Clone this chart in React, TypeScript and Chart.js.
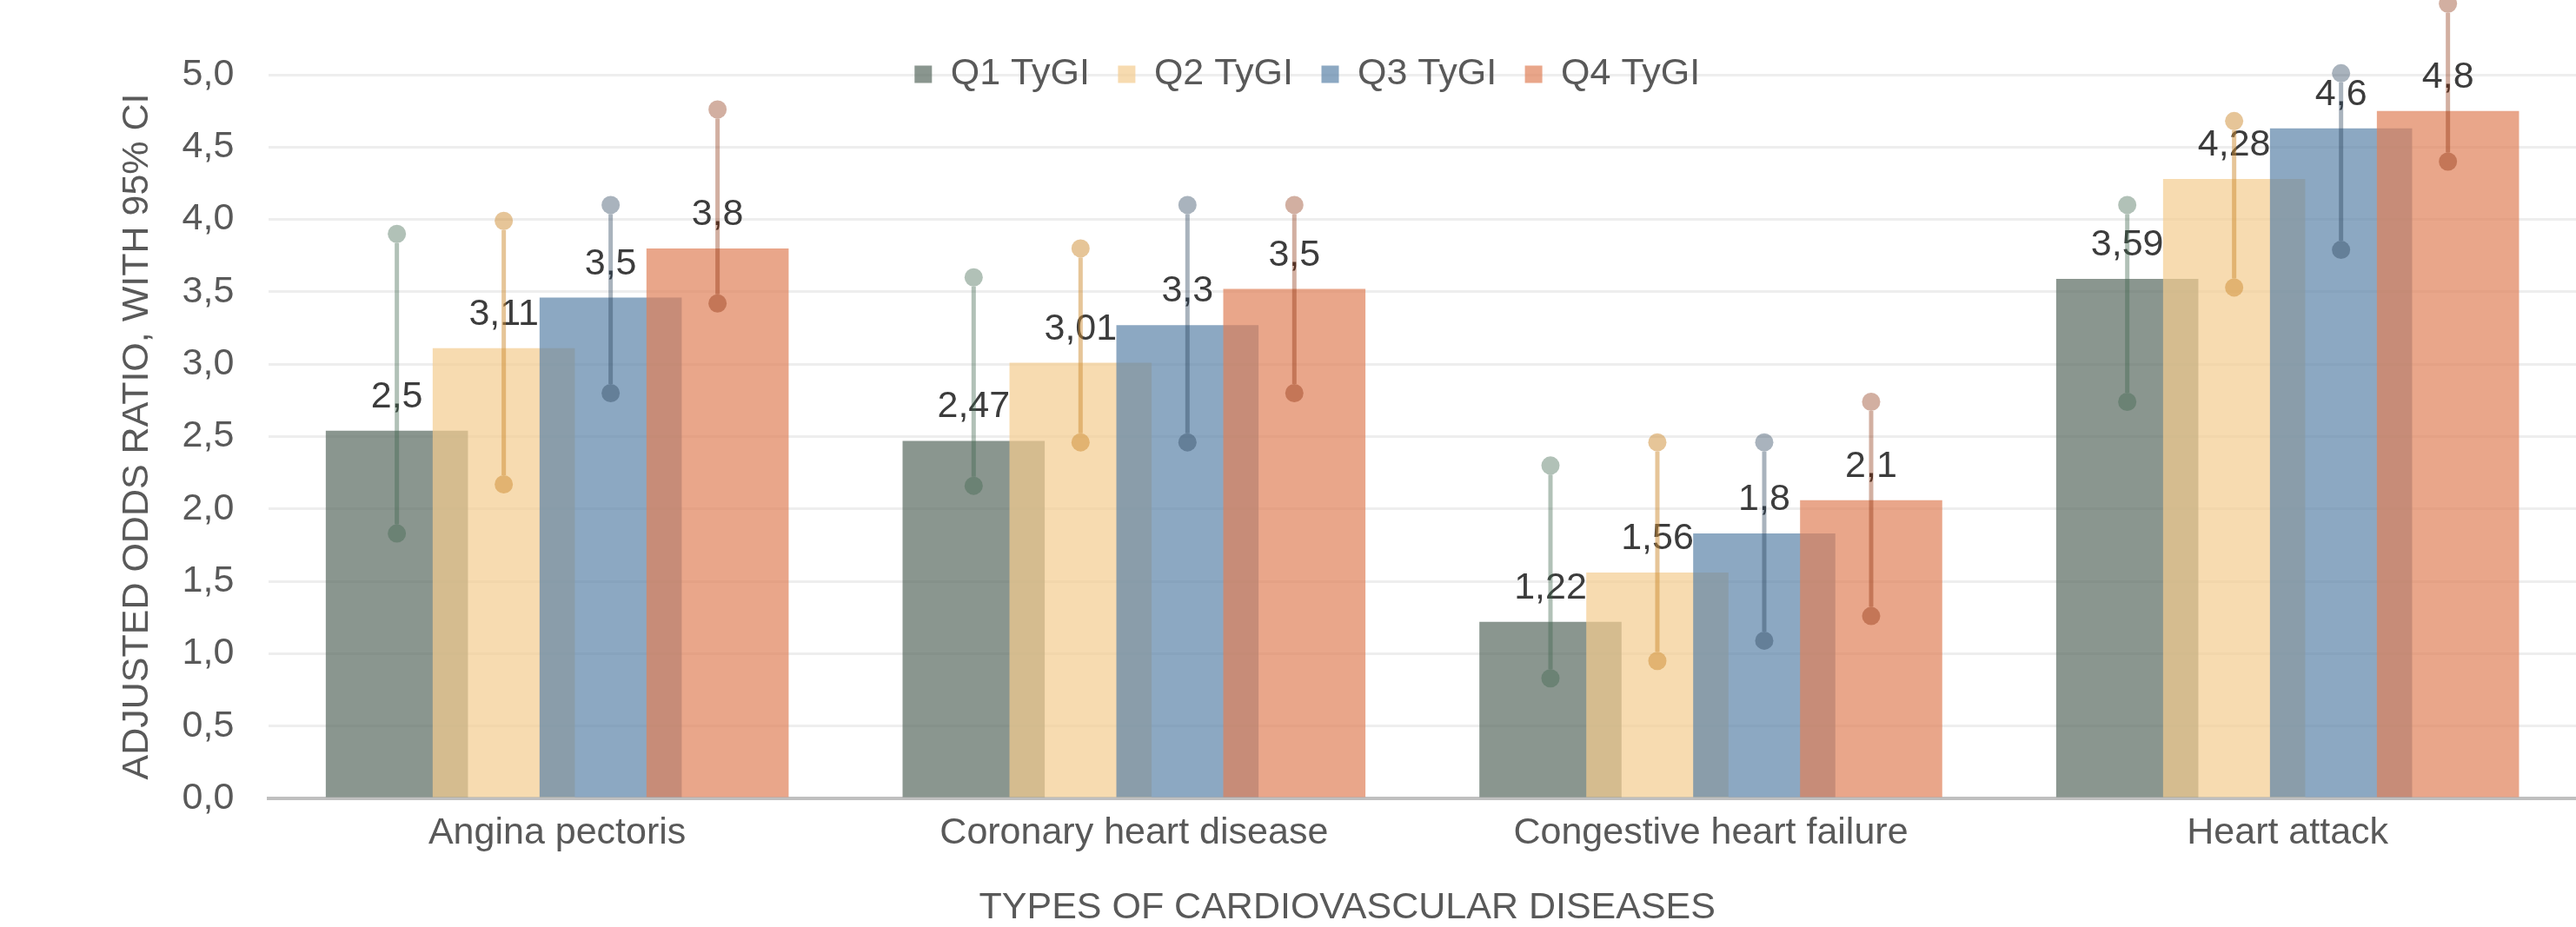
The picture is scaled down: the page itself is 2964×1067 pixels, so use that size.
import React, { useEffect, useRef } from 'react';
import { Chart, registerables } from 'chart.js';

Chart.register(...registerables);

const FONT = '"Liberation Sans", Arial, Helvetica, sans-serif';

const categories = ['Angina pectoris', 'Coronary heart disease', 'Congestive heart failure', 'Heart attack'];
const seriesNames = ['Q1 TyGI', 'Q2 TyGI', 'Q3 TyGI', 'Q4 TyGI'];

// adjusted odds ratios (bar heights)
const q1Values = [2.54, 2.47, 1.22, 3.59];
const q2Values = [3.11, 3.01, 1.56, 4.28];
const q3Values = [3.46, 3.27, 1.83, 4.63];
const q4Values = [3.80, 3.52, 2.06, 4.75];

// data labels as printed on the chart
const q1Labels = ['2,5', '2,47', '1,22', '3,59'];
const q2Labels = ['3,11', '3,01', '1,56', '4,28'];
const q3Labels = ['3,5', '3,3', '1,8', '4,6'];
const q4Labels = ['3,8', '3,5', '2,1', '4,8'];

// 95% CI bounds
const q1Low = [1.83, 2.16, 0.83, 2.74];
const q1High = [3.90, 3.60, 2.30, 4.10];
const q2Low = [2.17, 2.46, 0.95, 3.53];
const q2High = [3.99, 3.80, 2.46, 4.68];
const q3Low = [2.80, 2.46, 1.09, 3.79];
const q3High = [4.10, 4.10, 2.46, 5.01];
const q4Low = [3.42, 2.80, 1.26, 4.40];
const q4High = [4.76, 4.10, 2.74, 5.49];

const barColors = [
  'rgba(88,105,95,0.7)',
  'rgba(244,204,144,0.71)',
  'rgba(91,131,168,0.7)',
  'rgba(224,128,88,0.7)',
];
const errColors = [
  'rgba(60,99,76,0.4)',
  'rgba(205,140,50,0.5)',
  'rgba(40,65,90,0.4)',
  'rgba(133,39,0,0.37)',
];

const allValues = [q1Values, q2Values, q3Values, q4Values];
const allLabels = [q1Labels, q2Labels, q3Labels, q4Labels];
const allLow = [q1Low, q2Low, q3Low, q4Low];
const allHigh = [q1High, q2High, q3High, q4High];

// move the legend down onto the top gridline, as in the original
const legendPlacePlugin = {
  id: 'legendPlace',
  afterLayout(chart: any) {
    const lg = chart.legend;
    if (!lg) return;
    const dy = 31;
    const dx = -46;
    lg.top += dy;
    lg.bottom += dy;
    lg.left += dx;
    lg.right += dx;
  },
};

const overlayPlugin = {
  id: 'overlayDraw',
  beforeDatasetsDraw(chart: any) {
    const ctx = chart.ctx as CanvasRenderingContext2D;
    const yScale = chart.scales.y;
    const n = chart.data.datasets.length;
    // draw datasets in index order so later quartiles sit on top
    for (let i = 0; i < n; i++) {
      const meta = chart.getDatasetMeta(i);
      if (!meta.hidden) meta.controller.draw();
    }
    ctx.save();
    // value labels
    ctx.font = `43px ${FONT}`;
    ctx.fillStyle = '#3c3c3c';
    ctx.textAlign = 'center';
    ctx.textBaseline = 'alphabetic';
    for (let i = 0; i < n; i++) {
      const meta = chart.getDatasetMeta(i);
      meta.data.forEach((bar: any, j: number) => {
        ctx.fillText(allLabels[i][j], bar.x, bar.y - 27);
      });
    }
    // CI error bars
    const r = 10.5;
    for (let i = 0; i < n; i++) {
      const meta = chart.getDatasetMeta(i);
      meta.data.forEach((bar: any, j: number) => {
        const x = bar.x;
        const yh = yScale.getPixelForValue(allHigh[i][j]);
        const yl = yScale.getPixelForValue(allLow[i][j]);
        ctx.strokeStyle = errColors[i];
        ctx.fillStyle = errColors[i];
        ctx.lineWidth = 5;
        ctx.beginPath();
        ctx.moveTo(x, yh + r);
        ctx.lineTo(x, yl - r);
        ctx.stroke();
        ctx.beginPath();
        ctx.arc(x, yh, r, 0, Math.PI * 2);
        ctx.fill();
        ctx.beginPath();
        ctx.arc(x, yl, r, 0, Math.PI * 2);
        ctx.fill();
      });
    }
    ctx.restore();
    return false;
  },
};

export default function App() {
  const ref = useRef<HTMLCanvasElement | null>(null);

  useEffect(() => {
    if (!ref.current) return;
    const chart = new Chart(ref.current, {
      type: 'bar',
      data: {
        labels: categories,
        datasets: seriesNames.map((name, i) => ({
          label: name,
          data: allValues[i],
          backgroundColor: barColors[i],
          borderColor: 'rgba(0,0,0,0)',
          borderWidth: 0,
          categoryPercentage: 0.7413,
          barPercentage: 1.33,
        })),
      },
      options: {
        responsive: true,
        maintainAspectRatio: false,
        devicePixelRatio: 1,
        animation: false,
        layout: { padding: { top: 0.5, left: 130, right: -6.5, bottom: 0 } },
        plugins: {
          tooltip: { enabled: false },
          legend: {
            position: 'top',
            align: 'center',
            labels: {
              boxWidth: 20,
              boxHeight: 20,
              padding: 32.5,
              color: '#595959',
              font: { size: 43, family: FONT },
            },
          },
          title: {
            display: true,
            position: 'bottom',
            text: 'TYPES OF CARDIOVASCULAR DISEASES',
            color: '#595959',
            font: { size: 43, family: FONT, lineHeight: 1, weight: 'normal' },
            padding: { top: 0, bottom: 0 },
          },
        },
        scales: {
          x: {
            grid: { display: false, drawTicks: false },
            border: { display: true, color: '#bfbfbf', width: 4 },
            ticks: {
              color: '#595959',
              font: { size: 43, family: FONT },
              padding: 14,
              maxRotation: 0,
              autoSkip: false,
            },
            afterFit: (s: any) => {
              s.height = 105;
            },
          },
          y: {
            min: 0,
            max: 5,
            ticks: {
              stepSize: 0.5,
              color: '#595959',
              font: { size: 43, family: FONT },
              padding: 40,
              callback: (v: any) => Number(v).toFixed(1).replace('.', ','),
            },
            grid: { color: '#eeeeee', lineWidth: 3, drawTicks: false },
            border: { display: false },
            title: {
              display: true,
              text: 'ADJUSTED ODDS RATIO, WITH 95% CI',
              color: '#595959',
              font: { size: 43, family: FONT, lineHeight: 1 },
              padding: { top: 6.5, bottom: 0 },
            },
            afterFit: (s: any) => {
              s.width = 179.3;
            },
          },
        },
      },
      plugins: [legendPlacePlugin, overlayPlugin],
    } as any);
    return () => chart.destroy();
  }, []);

  return (
    <div style={{ position: 'fixed', left: 0, top: 0, width: 2964, height: 1067, background: '#ffffff' }}>
      <canvas ref={ref} />
    </div>
  );
}
